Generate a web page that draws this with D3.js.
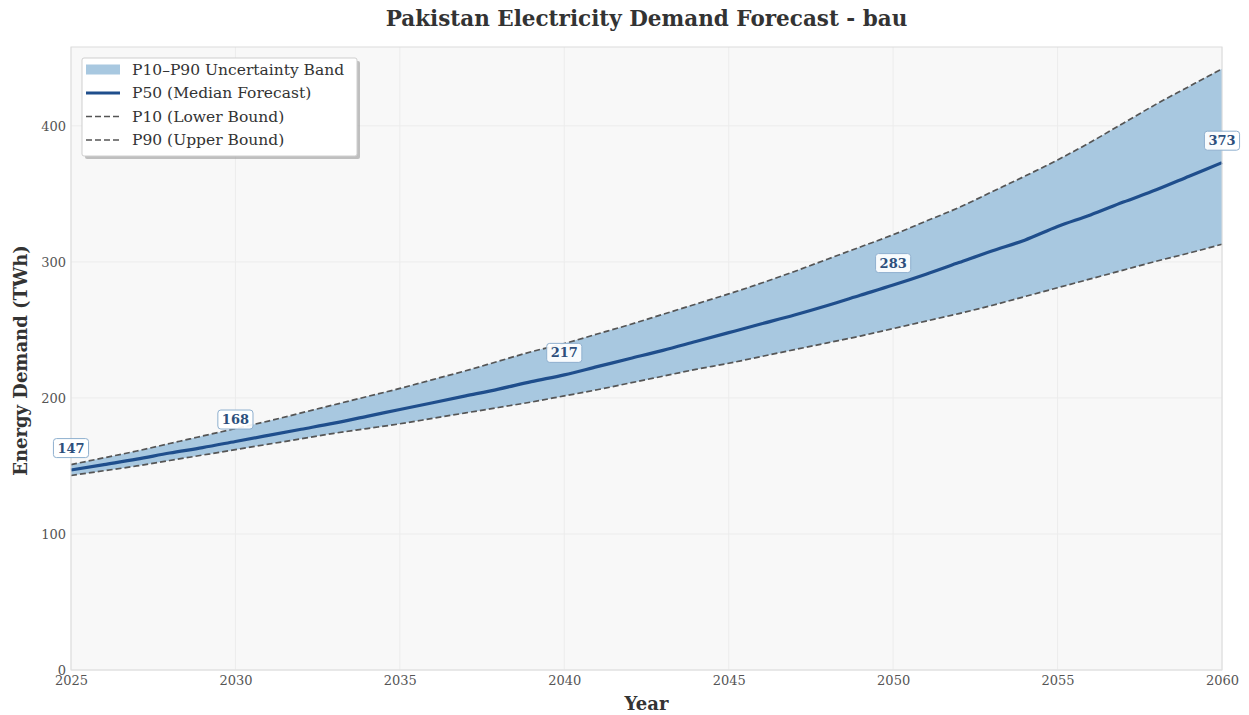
<!DOCTYPE html>
<html>
<head>
<meta charset="utf-8">
<script src="https://cdn.jsdelivr.net/npm/d3@7"></script>
<style>
  html, body { margin: 0; padding: 0; background: #ffffff; }
  svg { display: block; font-family: "DejaVu Serif", serif; }
</style>
</head>
<body>
<svg id="chart" width="1249" height="715"></svg>
<script>
// Forecast years
const years = d3.range(2025, 2061);

// P50 median forecast (TWh)
const p50 = [147, 151, 155, 159.5, 163.5,
             168, 172.5, 177, 181.5, 186.5,
             191.5, 196.5, 201.5, 206.5, 212,
             217, 223, 229, 235, 241.5,
             248, 254.5, 261, 268, 275.5,
             283, 291, 299.5, 308, 316,
             326, 334.5, 344, 353, 363,
             373];

// P10 lower bound (TWh)
const p10 = [143, 146.5, 150, 154, 158,
             162, 166, 170, 174, 177.5,
             181, 185, 189, 193, 197,
             201.5, 206, 211, 216, 221,
             225.5, 230.5, 235.5, 240.5, 245.5,
             251, 256.5, 262, 268, 274.5,
             281, 287.5, 294, 300.5, 306.5,
             313];

// P90 upper bound (TWh)
const p90 = [151, 156, 161, 166.5, 172,
             177.5, 183, 189, 195, 201,
             207, 213.5, 220, 227, 234,
             240, 247, 254, 261.5, 269,
             276.5, 284.5, 293, 302, 311,
             320, 330, 340, 351.5, 363,
             375, 388, 402, 416, 429,
             442];

// Years that carry a value label on the median line
const labelYears = [2025, 2030, 2040, 2050, 2060];

const xTicks = [2025, 2030, 2035, 2040, 2045, 2050, 2055, 2060];
const yTicks = [0, 100, 200, 300, 400];

const rows = years.map((y, i) => ({ year: y, p10: p10[i], p50: p50[i], p90: p90[i] }));

const svg = d3.select("#chart");
const m = { left: 71, right: 1249 - 1222, top: 47, bottom: 715 - 670 };
const W = 1249, H = 715;
const iw = W - m.left - m.right, ih = H - m.top - m.bottom;

const x = d3.scaleLinear().domain([2025, 2060]).range([m.left, m.left + iw]);
const y = d3.scaleLinear().domain([0, 458]).range([m.top + ih, m.top]);

// Plot background
svg.append("rect")
  .attr("x", m.left).attr("y", m.top).attr("width", iw).attr("height", ih)
  .attr("fill", "#f8f8f8");

// Grid
const grid = svg.append("g");
grid.selectAll("line.gx").data(xTicks).join("line")
  .attr("x1", d => x(d)).attr("x2", d => x(d))
  .attr("y1", m.top).attr("y2", m.top + ih)
  .attr("stroke", "#ececec").attr("stroke-width", 1);
grid.selectAll("line.gy").data(yTicks).join("line")
  .attr("x1", m.left).attr("x2", m.left + iw)
  .attr("y1", d => y(d)).attr("y2", d => y(d))
  .attr("stroke", "#ececec").attr("stroke-width", 1);

// Uncertainty band
const area = d3.area()
  .x(d => x(d.year)).y0(d => y(d.p10)).y1(d => y(d.p90))
  .curve(d3.curveMonotoneX);
svg.append("path").datum(rows)
  .attr("d", area)
  .attr("fill", "#a8c8e0");

const lineOf = key => d3.line().x(d => x(d.year)).y(d => y(d[key])).curve(d3.curveMonotoneX);

// Bounds
["p10", "p90"].forEach(k => {
  svg.append("path").datum(rows)
    .attr("d", lineOf(k))
    .attr("fill", "none")
    .attr("stroke", "#555555")
    .attr("stroke-width", 1.7)
    .attr("stroke-dasharray", "6,3");
});

// Median
svg.append("path").datum(rows)
  .attr("d", lineOf("p50"))
  .attr("fill", "none")
  .attr("stroke", "#1f4e8c")
  .attr("stroke-width", 3.2)
  .attr("stroke-linejoin", "round");

// Plot frame
svg.append("rect")
  .attr("x", m.left).attr("y", m.top).attr("width", iw).attr("height", ih)
  .attr("fill", "none").attr("stroke", "#dcdcdc").attr("stroke-width", 1);

// Axes
const xAxis = svg.append("g")
  .attr("transform", `translate(0,${m.top + ih})`)
  .call(d3.axisBottom(x).tickValues(xTicks).tickFormat(d3.format("d")).tickSize(0).tickPadding(6));
const yAxis = svg.append("g")
  .attr("transform", `translate(${m.left},0)`)
  .call(d3.axisLeft(y).tickValues(yTicks).tickSize(0).tickPadding(5));
[xAxis, yAxis].forEach(a => {
  a.select(".domain").remove();
  a.selectAll("text")
    .attr("font-family", "DejaVu Serif, serif")
    .attr("font-size", 13)
    .attr("fill", "#555");
});

// Value labels
const lab = svg.append("g");
labelYears.forEach(yr => {
  const d = rows.find(r => r.year === yr);
  const cx = x(d.year), cy = y(d.p50) - 22;
  const g = lab.append("g").attr("transform", `translate(${cx},${cy})`);
  const t = g.append("text")
    .attr("text-anchor", "middle").attr("dy", "0.35em")
    .attr("font-size", 13).attr("font-weight", "bold")
    .attr("fill", "#2d4f7c")
    .text(d3.format("d")(Math.round(d.p50)));
  const bb = t.node().getBBox();
  g.insert("rect", "text")
    .attr("x", bb.x - 4).attr("y", bb.y - 2)
    .attr("width", bb.width + 8).attr("height", bb.height + 4)
    .attr("rx", 3)
    .attr("fill", "#ffffff").attr("fill-opacity", 0.92)
    .attr("stroke", "#8fb0cf").attr("stroke-width", 1);
});

// Title and axis titles
svg.append("text")
  .attr("x", m.left + iw / 2).attr("y", 26)
  .attr("text-anchor", "middle")
  .attr("font-size", 21.5).attr("font-weight", "bold").attr("fill", "#333")
  .text("Pakistan Electricity Demand Forecast - bau");

svg.append("text")
  .attr("x", m.left + iw / 2).attr("y", 710)
  .attr("text-anchor", "middle")
  .attr("font-size", 18).attr("font-weight", "bold").attr("fill", "#333")
  .text("Year");

svg.append("text")
  .attr("transform", `translate(27,${m.top + ih / 2 + 2}) rotate(-90)`)
  .attr("text-anchor", "middle")
  .attr("font-size", 18).attr("font-weight", "bold").attr("fill", "#333")
  .text("Energy Demand (TWh)");

// Legend
const lg = svg.append("g").attr("transform", "translate(82,58)");
const lw = 275, lh = 98;
lg.append("rect").attr("x", 3).attr("y", 3).attr("width", lw).attr("height", lh)
  .attr("rx", 2)
  .attr("fill", "#9a9a9a").attr("opacity", 0.6);
lg.append("rect").attr("width", lw).attr("height", lh)
  .attr("rx", 2)
  .attr("fill", "#ffffff").attr("stroke", "#cfcfcf").attr("stroke-width", 1);

const items = [
  { label: "P10\u2013P90 Uncertainty Band", type: "patch" },
  { label: "P50 (Median Forecast)", type: "solid" },
  { label: "P10 (Lower Bound)", type: "dash" },
  { label: "P90 (Upper Bound)", type: "dash" }
];
items.forEach((it, i) => {
  const cy = 11.5 + i * 23.5;
  if (it.type === "patch") {
    lg.append("rect").attr("x", 4).attr("y", cy - 5).attr("width", 34).attr("height", 10)
      .attr("fill", "#a8c8e0");
  } else if (it.type === "solid") {
    lg.append("line").attr("x1", 4).attr("x2", 38).attr("y1", cy).attr("y2", cy)
      .attr("stroke", "#1f4e8c").attr("stroke-width", 3.2);
  } else {
    lg.append("line").attr("x1", 4).attr("x2", 38).attr("y1", cy).attr("y2", cy)
      .attr("stroke", "#555555").attr("stroke-width", 1.7).attr("stroke-dasharray", "6,3");
  }
  lg.append("text").attr("x", 50).attr("y", cy).attr("dy", "0.35em")
    .attr("font-size", 15.5).attr("fill", "#333")
    .text(it.label);
});
</script>
</body>
</html>
